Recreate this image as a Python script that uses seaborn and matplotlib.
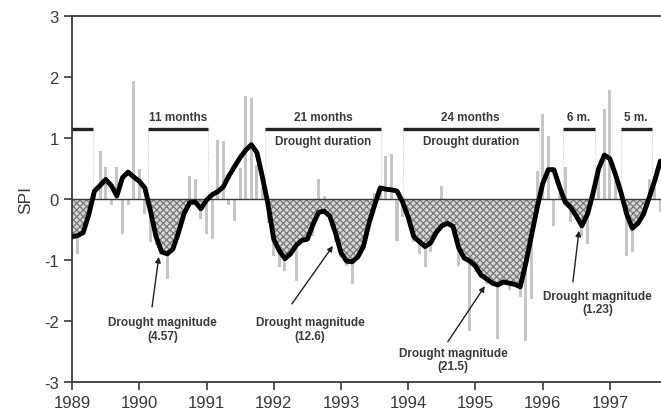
import numpy as np
import pandas as pd
import matplotlib
matplotlib.use("Agg")
import matplotlib.pyplot as plt
import seaborn as sns

# monthly SPI values (bars) and smoothed SPI (thick line), Jan 1989 .. Oct 1997
spi_monthly = [
    -0.55, -0.90, -0.45, -0.10, 0.15, 0.79, 0.52, -0.10, 0.52, -0.57, -0.10, 1.93,
    0.49, -0.25, -0.70, -0.75, -0.85, -1.32, -0.60, -0.40, -0.10, 0.37, 0.32, -0.33,
    -0.57, -0.65, 0.97, 0.95, -0.10, -0.36, 0.50, 1.69, 1.66, 0.55, 0.20, -0.40,
    -0.93, -1.12, -1.18, -0.80, -1.34, -0.70, -0.50, -0.60, 0.33, 0.05, -0.30, -0.70,
    -0.95, -1.10, -1.39, -0.90, -0.60, -0.20, 0.10, 0.20, 0.71, 0.73, -0.69, -0.30,
    -0.40, -0.70, -0.90, -1.12, -0.87, -0.30, 0.22, -0.45, -0.60, -1.10, -0.90, -2.16,
    -1.20, -1.00, -1.40, -1.20, -2.30, -1.30, -1.50, -1.20, -1.60, -2.33, -1.64, 0.46,
    1.40, 1.04, -0.45, 0.10, 0.52, -0.38, -0.15, -0.60, -0.74, 0.10, 0.40, 1.48,
    1.79, 0.30, 0.10, -0.93, -0.87, -0.30, -0.10, 0.33, 0.20, -0.22,
]
spi_smooth = [
    -0.62, -0.60, -0.55, -0.25, 0.13, 0.22, 0.32, 0.22, 0.05, 0.35, 0.44, 0.36,
    0.29, 0.18, -0.20, -0.62, -0.87, -0.90, -0.82, -0.55, -0.24, -0.06, -0.05, -0.16,
    -0.02, 0.07, 0.12, 0.20, 0.38, 0.53, 0.68, 0.80, 0.89, 0.76, 0.35, -0.10,
    -0.66, -0.85, -0.98, -0.90, -0.76, -0.68, -0.66, -0.42, -0.22, -0.20, -0.28, -0.55,
    -0.88, -1.02, -1.03, -0.95, -0.78, -0.40, -0.10, 0.18, 0.16, 0.15, 0.13, -0.05,
    -0.30, -0.62, -0.70, -0.78, -0.72, -0.55, -0.44, -0.40, -0.45, -0.80, -0.97, -1.02,
    -1.10, -1.25, -1.31, -1.38, -1.41, -1.36, -1.38, -1.40, -1.44, -1.05, -0.60, -0.15,
    0.25, 0.48, 0.48, 0.20, -0.05, -0.14, -0.28, -0.44, -0.25, 0.10, 0.50, 0.72,
    0.66, 0.40, 0.10, -0.25, -0.48, -0.40, -0.25, 0.02, 0.30, 0.62,
]
time = 1989 + np.arange(len(spi_smooth)) / 12.0

# drought durations: (start, end, label above, label below)
durations = [
    (1989.0, 1989.31, "", ""),
    (1990.13, 1991.02, "11 months", ""),
    (1991.87, 1993.60, "21 months", "Drought duration"),
    (1993.92, 1995.94, "24 months", "Drought duration"),
    (1996.30, 1996.78, "6 m.", ""),
    (1997.16, 1997.62, "5 m.", ""),
]
# drought magnitudes: label, text centre, arrow tail, arrow tip
mag_labels = ["Drought magnitude\n(4.57)", "Drought magnitude\n(12.6)",
              "Drought magnitude\n(21.5)", "Drought magnitude\n(1.23)"]
mag_text_xy = [(1990.35, -2.13), (1992.54, -2.13), (1994.67, -2.63), (1996.82, -1.70)]
mag_tail_xy = [(1990.19, -1.77), (1992.27, -1.72), (1994.59, -2.34), (1996.45, -1.36)]
mag_tip_xy = [(1990.29, -0.95), (1992.88, -0.77), (1995.14, -1.43), (1996.54, -0.52)]

df = pd.DataFrame({"time": time, "spi": spi_monthly, "smooth": spi_smooth})

sns.set_style("ticks")
plt.rcParams["font.family"] = ["Liberation Sans", "DejaVu Sans"]
plt.rcParams["axes.unicode_minus"] = False
plt.rcParams["hatch.linewidth"] = 0.9

dark = "#3a3a3a"
fig = plt.figure(figsize=(6.61, 4.14), dpi=100)
ax = fig.add_axes([0.109, 0.075, 0.891, 0.884])

ax.bar(df["time"], df["spi"], width=0.045, color="#c6c6c6", linewidth=0, zorder=1)
ax.fill_between(df["time"], df["smooth"], 0, where=df["smooth"] < 0, interpolate=True,
                facecolor="#d6d6d6", edgecolor="#7a7a7a", hatch="xxxxx", linewidth=0, zorder=2)
ax.axhline(0, color=dark, lw=1.0, zorder=3)
sns.lineplot(data=df, x="time", y="smooth", color="black", lw=3.5, ax=ax, zorder=4)

for start, end, top, bottom in durations:
    ax.plot([start, end], [1.15, 1.15], color="#222222", lw=2.4, solid_capstyle="butt", zorder=4)
    for xv in (start, end):
        if xv > 1989.01:
            ax.plot([xv, xv], [0, 1.15], color="#bdbdbd", lw=0.6, ls=":", zorder=1)
    mid = (start + end) / 2
    if top:
        ax.text(mid, 1.25, top, ha="center", va="bottom", fontsize=8.5, fontweight="bold", color=dark)
    if bottom:
        ax.text(mid, 1.05, bottom, ha="center", va="top", fontsize=8.5, fontweight="bold", color=dark)

for label, (tx, ty), tail, tip in zip(mag_labels, mag_text_xy, mag_tail_xy, mag_tip_xy):
    ax.text(tx, ty, label, ha="center", va="center", fontsize=8.5, fontweight="bold",
            color=dark, linespacing=1.15)
    ax.annotate("", xy=tip, xytext=tail,
                arrowprops=dict(arrowstyle="-|>", color="#222222", lw=1.0,
                                mutation_scale=8, shrinkA=0, shrinkB=0))

ax.set_xlim(1989, 1997.76)
ax.set_ylim(-3, 3)
ax.set_xticks(range(1989, 1998))
ax.set_yticks(range(-3, 4))
ax.set_xlabel("")
ax.set_ylabel("SPI", fontsize=12.5, color=dark, labelpad=8)
ax.tick_params(axis="both", labelsize=12, colors=dark, length=6, width=1.2, direction="out")
for side in ("left", "bottom", "top"):
    ax.spines[side].set_color(dark)
    ax.spines[side].set_linewidth(1.3)
ax.spines["right"].set_visible(False)

fig.savefig("out.png", dpi=100)
